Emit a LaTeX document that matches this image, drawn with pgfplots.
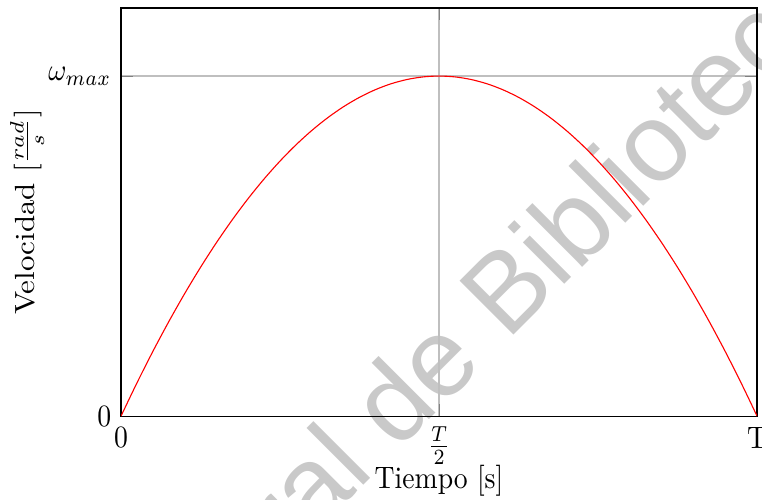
\documentclass[border=0pt]{standalone}
\usepackage{pgfplots}
\pgfplotsset{compat=1.18}
\usepackage{fontspec}
\newfontfamily\wmfont{Liberation Sans}

\begin{document}
\begin{tikzpicture}
% watermark, drawn first so the axis lies on top of it
\tikzset{wm/.style={rotate=45, inner sep=0pt, text=black!21,
      font=\wmfont\fontsize{40}{48}\selectfont}}
\node[wm, anchor=base west] at (139.4pt,26.7pt) {Bibliotecas};
\node[wm, anchor=base east] at (131.5pt,18.8pt) {Dirección General de};

\begin{axis}[
  scale only axis,
  width=229.6pt, height=147.3pt,
  xmin=0, xmax=1, ymin=0, ymax=1.2,
  xtick={0,0.5,1}, xticklabels={0,$\frac{T}{2}$,T},
  ytick={0,1}, yticklabels={0,$\omega_{max}$},
  grid=major,
  every tick label/.append style={yscale=1.12},
  xlabel={Tiempo [s]},
  ylabel={Velocidad $[\frac{rad}{s}]$},
  every axis x label/.style={at={(axis description cs:0.5,0)},
      anchor=base, yshift=-26pt, yscale=1.12},
  every axis y label/.style={at={(axis description cs:0,0.5)},
      anchor=center, xshift=-33.9pt, rotate=90, xscale=1.12},
]
\addplot[red, smooth] coordinates {
  (0,0) (0.025,0.0975) (0.05,0.19) (0.075,0.2775) (0.1,0.36)
  (0.125,0.4375) (0.15,0.51) (0.175,0.5775) (0.2,0.64) (0.225,0.6975)
  (0.25,0.75) (0.275,0.7975) (0.3,0.84) (0.325,0.8775) (0.35,0.91)
  (0.375,0.9375) (0.4,0.96) (0.425,0.9775) (0.45,0.99) (0.475,0.9975)
  (0.5,1) (0.525,0.9975) (0.55,0.99) (0.575,0.9775) (0.6,0.96)
  (0.625,0.9375) (0.65,0.91) (0.675,0.8775) (0.7,0.84) (0.725,0.7975)
  (0.75,0.75) (0.775,0.6975) (0.8,0.64) (0.825,0.5775) (0.85,0.51)
  (0.875,0.4375) (0.9,0.36) (0.925,0.2775) (0.95,0.19) (0.975,0.0975)
  (1,0)
};
\end{axis}
\pgfresetboundingbox
\path[use as bounding box] (-43.7pt,-30.3pt) rectangle (231.4pt,150.2pt);
\end{tikzpicture}
\end{document}
